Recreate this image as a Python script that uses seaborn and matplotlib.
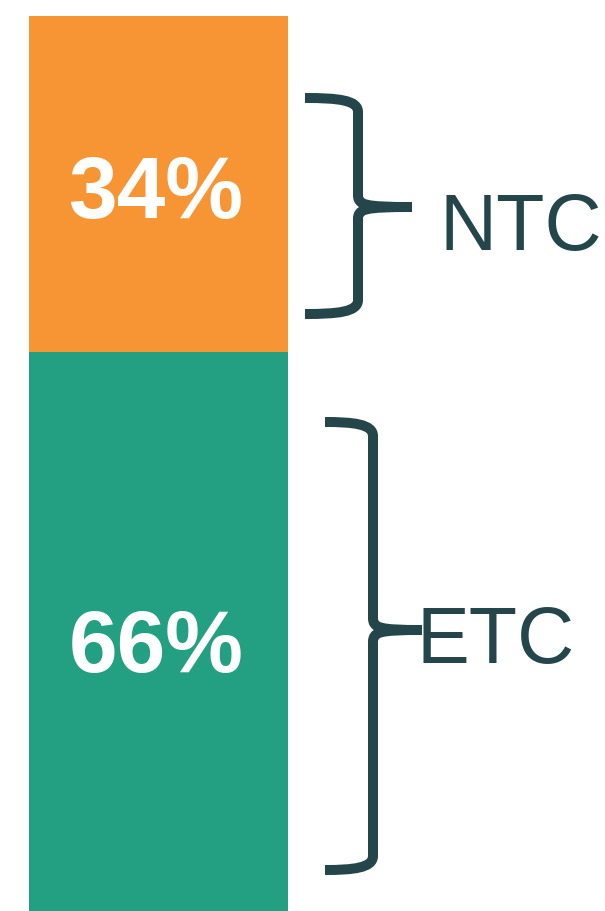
import pandas as pd
import seaborn as sns
import matplotlib.pyplot as plt
from matplotlib.path import Path
from matplotlib.patches import PathPatch

# data
groups = ["ETC", "NTC"]
shares = [66, 34]
labels = ["66%", "34%"]
colors = ["#22A081", "#F79433"]
dark = "#24464A"

df = pd.DataFrame({"bar": ["all"], "ETC": [shares[0]], "NTC": [shares[1]]})
df["total"] = df["ETC"] + df["NTC"]

sns.set_style("white")
plt.rcParams["font.family"] = ["Liberation Sans", "DejaVu Sans"]

W, H = 605, 911
fig = plt.figure(figsize=(W / 100, H / 100), dpi=100)
ax = fig.add_axes([0, 0, 1, 1])

# stacked bar: draw total first, then bottom part on top
sns.barplot(x="bar", y="total", data=df, color=colors[1], width=0.8, ax=ax,
            saturation=1, linewidth=0)
sns.barplot(x="bar", y="ETC", data=df, color=colors[0], width=0.8, ax=ax,
            saturation=1, linewidth=0)

ax.set_xlim(-0.491, 1.378)
ax.set_ylim(9.43, 101.62)
ax.axis("off")


def px(x, y):
    # pixel position -> figure fraction
    return x / W, 1 - y / H


ax.text(*px(155.5, 218), labels[1], transform=fig.transFigure, ha="center", va="baseline",
        color="white", fontsize=63, fontweight="bold")
ax.text(*px(156.5, 672), labels[0], transform=fig.transFigure, ha="center", va="baseline",
        color="white", fontsize=63, fontweight="bold")


def brace(x_tip, x_sp, y_top, y_bot, y_mid, x_end):
    r = 14
    top = [(x_tip, y_top), (x_sp - 20, y_top), (x_sp, y_top + 2), (x_sp, y_top + r),
           (x_sp, y_mid - 12), (x_sp, y_mid - 2), (x_sp + 6, y_mid), (x_end, y_mid)]
    bot = [(x_end, y_mid), (x_sp + 6, y_mid), (x_sp, y_mid + 2), (x_sp, y_mid + 12),
           (x_sp, y_bot - r), (x_sp, y_bot - 2), (x_sp - 20, y_bot), (x_tip, y_bot)]
    codes = [Path.MOVETO, Path.CURVE4, Path.CURVE4, Path.CURVE4,
             Path.LINETO, Path.CURVE4, Path.CURVE4, Path.CURVE4]
    verts = [px(*v) for v in top + bot]
    patch = PathPatch(Path(verts, codes + codes), transform=fig.transFigure,
                      facecolor="none", edgecolor=dark, lw=7.2,
                      capstyle="butt", joinstyle="round")
    fig.add_artist(patch)


brace(305, 358, 98, 314, 207, 412)
brace(325, 373, 422, 870, 630, 422)

ax.text(*px(440, 250), groups[1], transform=fig.transFigure, ha="left", va="baseline",
        color=dark, fontsize=57)
ax.text(*px(417, 663), groups[0], transform=fig.transFigure, ha="left", va="baseline",
        color=dark, fontsize=57)

fig.savefig("out.png", dpi=100)
